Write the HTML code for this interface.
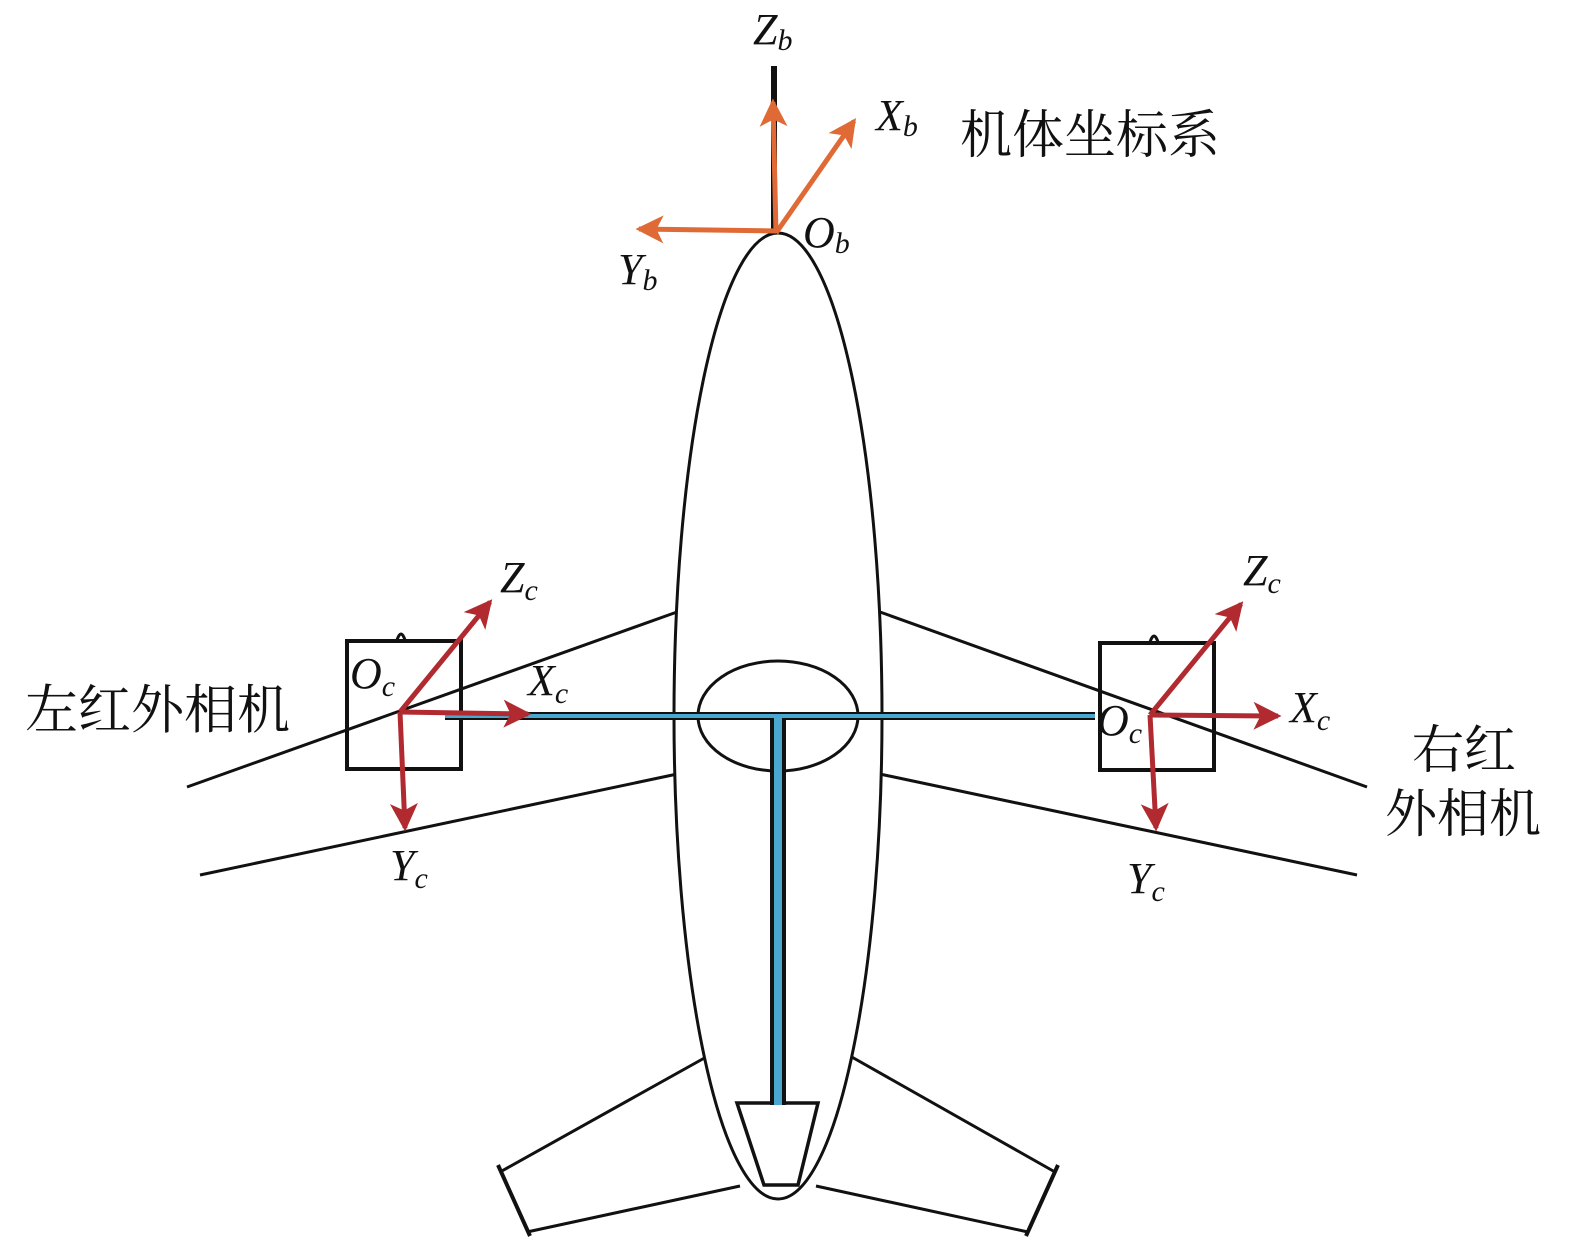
<!DOCTYPE html>
<html><head><meta charset="utf-8"><style>
html,body{margin:0;padding:0;background:#fff}
svg{display:block}
.t{font-family:"Liberation Serif",serif;font-style:italic;fill:#111}
.c{font-family:"Liberation Serif","Noto Serif CJK SC",serif;fill:#111}
</style></head><body>
<svg width="1575" height="1246" viewBox="0 0 1575 1246" xmlns="http://www.w3.org/2000/svg">
<defs>
<marker id="r" markerWidth="32" markerHeight="28" refX="7" refY="4" orient="auto" markerUnits="userSpaceOnUse" viewBox="0 0 8 8"><path d="M0,0 L8,4 L0,8 L2,4z" fill="#b02a30"/></marker>
<marker id="o" markerWidth="32" markerHeight="28" refX="7" refY="4" orient="auto" markerUnits="userSpaceOnUse" viewBox="0 0 8 8"><path d="M0,0 L8,4 L0,8 L2,4z" fill="#e06a35"/></marker>
</defs>
<g stroke="#111" stroke-width="3" fill="none">
<line x1="187" y1="787" x2="677" y2="612"/>
<line x1="200" y1="875" x2="682" y2="773"/>
<line x1="880" y1="612" x2="1367" y2="787"/>
<line x1="875" y1="773" x2="1357" y2="875"/>
<line x1="708" y1="1056" x2="500" y2="1172"/>
<line x1="740" y1="1186" x2="527" y2="1232"/>
<line x1="498" y1="1165" x2="530" y2="1236" stroke-width="4"/>
<line x1="850" y1="1056" x2="1055" y2="1172"/>
<line x1="816" y1="1186" x2="1028" y2="1232"/>
<line x1="1058" y1="1165" x2="1026" y2="1236" stroke-width="4"/>
<ellipse cx="778" cy="716" rx="104" ry="483" fill="#fff"/>
<ellipse cx="778" cy="716" rx="80" ry="55"/>
<path d="M737,1103 L818,1103 L798,1185 L764,1185 Z" stroke-width="3.5"/>
<line x1="774" y1="66" x2="774" y2="232" stroke-width="6"/>
<rect x="347" y="641" width="114" height="128" stroke-width="4"/>
<rect x="1100" y="643" width="114" height="127" stroke-width="4"/>
<path d="M397,640 q4,-12 8,0" />
<path d="M1150,642 q4,-12 8,0" />
</g>
<rect x="445" y="712" width="650" height="8" fill="#111"/>
<rect x="445" y="714" width="650" height="4" fill="#4aa8d0"/>
<rect x="770" y="718" width="16" height="387" fill="#111"/>
<rect x="774" y="718" width="8" height="387" fill="#4aa8d0"/>
<g stroke="#b02a30" stroke-width="5" fill="none">
<line x1="400" y1="712" x2="490" y2="602" marker-end="url(#r)"/>
<line x1="400" y1="712" x2="528" y2="714" marker-end="url(#r)"/>
<line x1="400" y1="712" x2="405" y2="828" marker-end="url(#r)"/>
<line x1="1150" y1="715" x2="1241" y2="604" marker-end="url(#r)"/>
<line x1="1150" y1="715" x2="1278" y2="716" marker-end="url(#r)"/>
<line x1="1150" y1="715" x2="1156" y2="828" marker-end="url(#r)"/>
</g>
<g stroke="#e06a35" stroke-width="5" fill="none">
<line x1="776" y1="233" x2="773" y2="102" marker-end="url(#o)"/>
<line x1="776" y1="233" x2="854" y2="121" marker-end="url(#o)"/>
<line x1="776" y1="231" x2="639" y2="229" marker-end="url(#o)"/>
</g>
<text class="t" x="753" y="44" font-size="44">Z<tspan font-size="30" dy="6">b</tspan></text>
<text class="t" x="876" y="130" font-size="44">X<tspan font-size="30" dy="6">b</tspan></text>
<text class="c" x="960" y="153" font-size="52">机体坐标系</text>
<text class="t" x="803" y="247" font-size="44">O<tspan font-size="30" dy="6">b</tspan></text>
<text class="t" x="618" y="284" font-size="44">Y<tspan font-size="30" dy="6">b</tspan></text>
<text class="c" x="25" y="728" font-size="53">左红外相机</text>
<text class="t" x="500" y="592" font-size="44">Z<tspan font-size="30" dy="8">c</tspan></text>
<text class="t" x="350" y="688" font-size="44">O<tspan font-size="30" dy="8">c</tspan></text>
<text class="t" x="528" y="695" font-size="44">X<tspan font-size="30" dy="8">c</tspan></text>
<text class="t" x="390" y="880" font-size="44">Y<tspan font-size="30" dy="8">c</tspan></text>
<text class="t" x="1243" y="585" font-size="44">Z<tspan font-size="30" dy="8">c</tspan></text>
<text class="t" x="1290" y="722" font-size="44">X<tspan font-size="30" dy="8">c</tspan></text>
<text class="t" x="1097" y="735" font-size="44">O<tspan font-size="30" dy="8">c</tspan></text>
<text class="t" x="1127" y="893" font-size="44">Y<tspan font-size="30" dy="8">c</tspan></text>
<text class="c" x="1412" y="768" font-size="52">右红</text>
<text class="c" x="1385" y="832" font-size="52">外相机</text>
</svg>
</body></html>
